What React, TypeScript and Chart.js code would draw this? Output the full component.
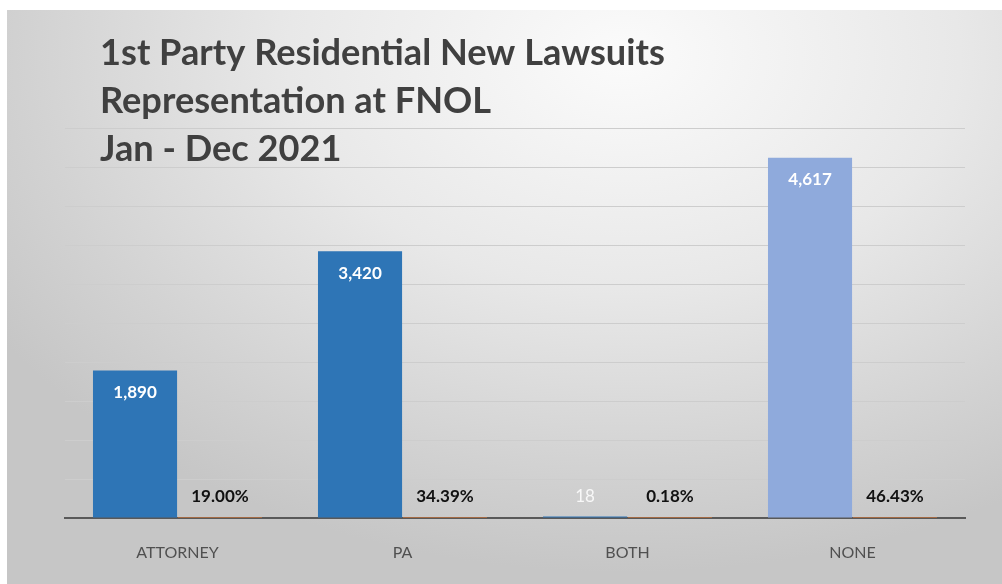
import React, { useEffect, useRef } from "react";
import { Chart, registerables } from "chart.js";

Chart.register(...registerables);

const categories = ["ATTORNEY", "PA", "BOTH", "NONE"];
const countValues = [1890, 3420, 18, 4617];
const shareValues = [0.19, 0.3439, 0.0018, 0.4643];
const countColors = ["#2E75B6", "#2E75B6", "#2E75B6", "#8FAADC"];
const titleLines = [
  "1st Party Residential New Lawsuits",
  "Representation at FNOL",
  "Jan - Dec 2021",
];
const yMax = 5000;
const yStep = 500;

const labelPlugin = {
  id: "labelPlugin",
  afterDatasetsDraw(chart: any) {
    const ctx = chart.ctx;
    const base = chart.scales.y.getPixelForValue(0);
    ctx.save();
    ctx.textAlign = "center";
    ctx.textBaseline = "middle";
    const m0 = chart.getDatasetMeta(0);
    m0.data.forEach((bar: any, i: number) => {
      const v = countValues[i];
      const y = Math.min(bar.y + 22, base - 21);
      ctx.font = (v < 100 ? "" : "bold ") + "17px Lato";
      ctx.fillStyle = v < 100 ? "rgba(255,255,255,0.85)" : "#FFFFFF";
      ctx.fillText(v.toLocaleString("en-US"), bar.x, y);
    });
    const m1 = chart.getDatasetMeta(1);
    m1.data.forEach((bar: any, i: number) => {
      ctx.font = "bold 17px Lato";
      ctx.fillStyle = "#111111";
      ctx.fillText((shareValues[i] * 100).toFixed(2) + "%", bar.x, base - 21);
    });
    ctx.restore();
  },
  afterDraw(chart: any) {
    const ctx = chart.ctx;
    ctx.save();
    ctx.fillStyle = "#404040";
    ctx.textAlign = "left";
    ctx.textBaseline = "middle";
    let size = 30;
    ctx.font = `bold ${size}px Lato`;
    const w = ctx.measureText(titleLines[0]).width;
    size = size * (565 / w);
    ctx.font = `bold ${size}px Lato`;
    titleLines.forEach((t, i) => {
      ctx.fillText(t, 93, 43 + i * 48);
    });
    ctx.restore();
  },
};

export default function App() {
  const ref = useRef<HTMLCanvasElement>(null);
  useEffect(() => {
    if (!ref.current) return;
    const chart = new Chart(ref.current, {
      type: "bar",
      data: {
        labels: categories,
        datasets: [
          {
            label: "Count",
            data: countValues,
            backgroundColor: countColors,
            barPercentage: 0.99,
            categoryPercentage: 0.755,
          },
          {
            label: "Share",
            data: shareValues,
            backgroundColor: "#ED7D31",
            barPercentage: 0.99,
            categoryPercentage: 0.755,
          },
        ],
      },
      options: {
        responsive: true,
        maintainAspectRatio: false,
        animation: false,
        layout: { padding: { left: 58, right: 37, top: 118, bottom: 0 } },
        plugins: {
          legend: { display: false },
          tooltip: { enabled: false },
          title: { display: false },
        },
        scales: {
          x: {
            grid: { display: false },
            border: { display: true, color: "#595959", width: 2 },
            ticks: {
              color: "#505050",
              font: { family: "Lato", size: 16 },
              padding: 17,
            },
            afterFit: (s: any) => {
              s.height = 66;
            },
          },
          y: {
            min: 0,
            max: yMax,
            ticks: { display: false, stepSize: yStep },
            grid: { color: "#CDCDCD", lineWidth: 1, drawTicks: false },
            border: { display: false },
            afterFit: (s: any) => {
              s.width = 0;
            },
          },
        },
      },
      plugins: [labelPlugin],
    });
    return () => chart.destroy();
  }, []);
  return (
    <div
      style={{
        position: "absolute",
        left: 7,
        top: 10,
        width: 995,
        height: 574,
        background:
          "radial-gradient(ellipse 75% 90% at 62% 8%, #FBFBFB 0%, #E8E8E8 45%, #D2D2D2 80%, #C6C6C6 100%)",
      }}
    >
      <canvas ref={ref} />
    </div>
  );
}
